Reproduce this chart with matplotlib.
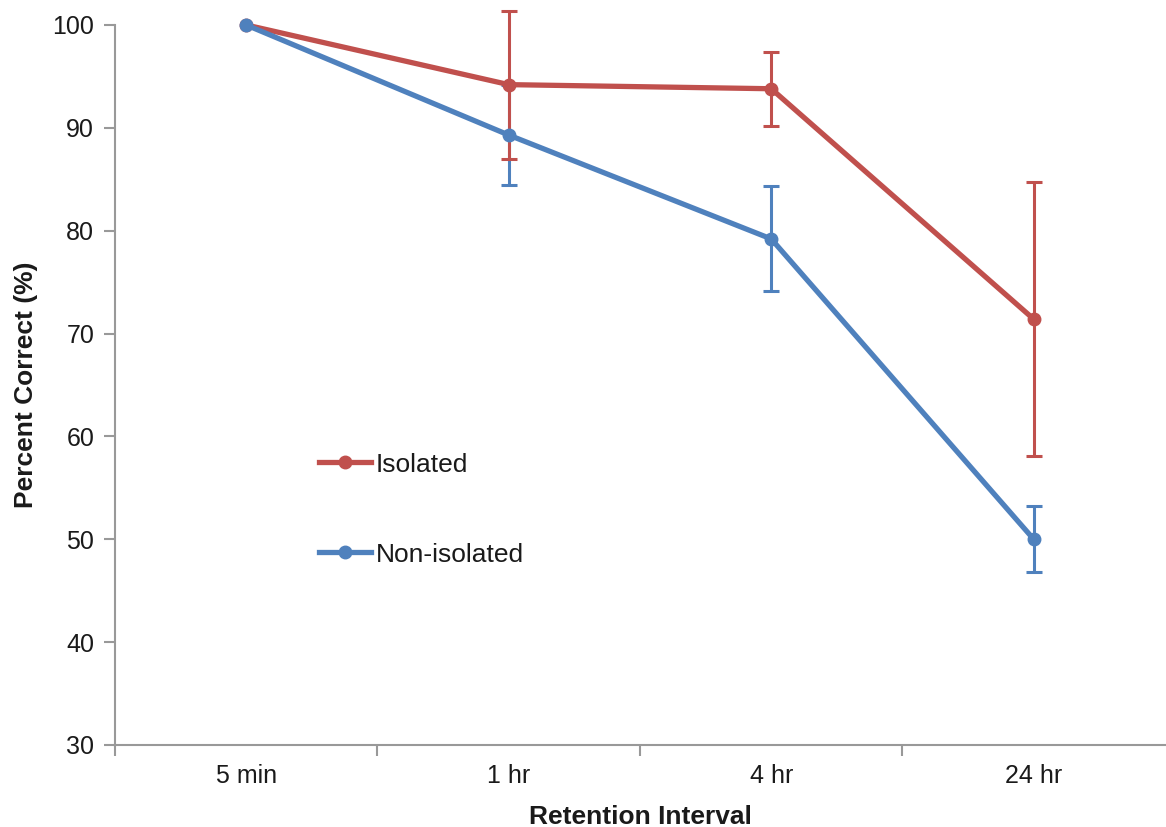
import numpy as np
import matplotlib
matplotlib.use("Agg")
import matplotlib.pyplot as plt
from matplotlib.ticker import FixedLocator

plt.rcParams["font.family"] = ["Liberation Sans", "DejaVu Sans"]

intervals = ["5 min", "1 hr", "4 hr", "24 hr"]
isolated = [100, 94.2, 93.8, 71.4]
isolated_err = [0, 7.2, 3.6, 13.3]
nonisolated = [100, 89.3, 79.2, 50.0]
nonisolated_err = [0, 4.9, 5.1, 3.2]

RED, BLUE, GREY = "#C0504D", "#4F81BD", "#999999"
TXT = "#1a1a1a"

fig = plt.figure(figsize=(11.66, 8.27), dpi=100)
ax = fig.add_axes([0.0986, 0.0992, 0.9005, 0.8706])

x = np.arange(len(intervals))
# error bars first so the lines sit on top of them
ax.errorbar(x[1:], nonisolated[1:], yerr=nonisolated_err[1:], fmt="none", ecolor=BLUE,
            elinewidth=2.2, capsize=6, capthick=2.2, zorder=1, clip_on=False)
ax.errorbar(x[1:], isolated[1:], yerr=isolated_err[1:], fmt="none", ecolor=RED,
            elinewidth=2.2, capsize=6, capthick=2.2, zorder=2, clip_on=False)
ax.plot(x, isolated, "-o", color=RED, lw=3.8, ms=9, label="Isolated", zorder=3, clip_on=False)
ax.plot(x, nonisolated, "-o", color=BLUE, lw=3.8, ms=9, label="Non-isolated", zorder=4, clip_on=False)

ax.set_xlim(-0.5, 3.5)
ax.set_ylim(30, 100)
ax.set_yticks(range(30, 101, 10))
ax.set_xticks(x)
ax.set_xticklabels(intervals)
ax.xaxis.set_minor_locator(FixedLocator([-0.5, 0.5, 1.5, 2.5]))
ax.tick_params(axis="x", which="major", length=0, pad=14, labelsize=18, labelcolor=TXT)
ax.tick_params(axis="x", which="minor", length=8, width=1.5, color=GREY)
ax.tick_params(axis="y", length=8, width=1.5, color=GREY, labelsize=18, labelcolor=TXT, pad=7)

for s in ["top", "right"]:
    ax.spines[s].set_visible(False)
for s in ["left", "bottom"]:
    ax.spines[s].set_color(GREY)
    ax.spines[s].set_linewidth(1.5)

ax.set_ylabel("Percent Correct (%)", fontsize=19, fontweight="bold", color=TXT, labelpad=10)
ax.set_xlabel("Retention Interval", fontsize=19, fontweight="bold", color=TXT, labelpad=12)

leg = ax.legend(loc="upper left", bbox_to_anchor=(0.194, 0.406), frameon=False, fontsize=19,
                handlelength=2.0, handletextpad=0.15, labelspacing=2.5, borderpad=0, borderaxespad=0)
for t in leg.get_texts():
    t.set_color(TXT)

fig.savefig("out.png", dpi=100)
